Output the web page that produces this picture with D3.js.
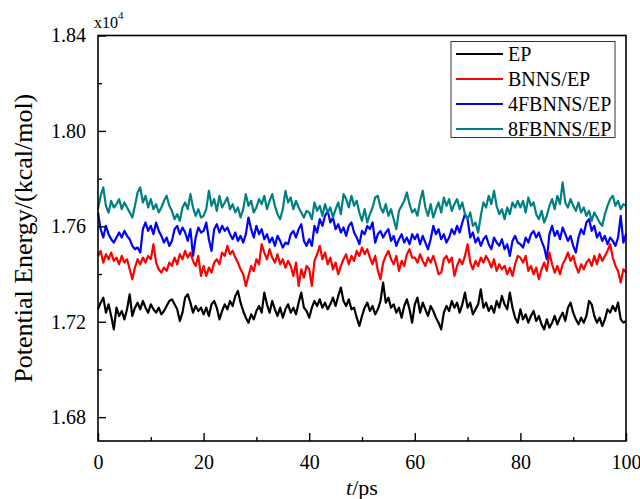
<!DOCTYPE html>
<html>
<head>
<meta charset="utf-8">
<script src="https://cdn.jsdelivr.net/npm/d3@7"></script>
<style>
  body { margin: 0; background: #fff; }
  svg { display: block; font-family: "Liberation Serif", "Times New Roman", serif; }
</style>
</head>
<body>
<svg></svg>
<script>
//chart size
const width = 640;
const height = 499;

//time step of the samples (ps)
const step = 0.5;

//potential energy, kcal/mol, every 0.5 ps
const ep = [
  17252,17280,17301,17238,17273,17224,17168,17259,17224,17245,17210,17252,17315,17224,17259,17280,17252,17287,17259,17238,
  17273,17252,17238,17259,17231,17245,17266,17287,17294,17273,17252,17203,17238,17301,17315,17280,17238,17266,17245,17259,
  17231,17259,17224,17273,17287,17259,17210,17245,17273,17252,17287,17266,17308,17329,17280,17245,17217,17196,17231,17210,
  17245,17266,17238,17322,17273,17238,17287,17252,17224,17259,17217,17252,17273,17238,17259,17231,17280,17322,17259,17245,
  17217,17259,17287,17266,17294,17259,17280,17252,17273,17301,17266,17308,17343,17287,17266,17294,17252,17259,17217,17182,
  17224,17259,17280,17245,17266,17231,17252,17287,17364,17280,17301,17259,17273,17238,17259,17217,17266,17294,17252,17196,
  17273,17301,17238,17280,17252,17224,17266,17245,17217,17196,17168,17238,17266,17245,17287,17259,17280,17238,17273,17322,
  17259,17280,17231,17252,17273,17336,17259,17280,17245,17266,17238,17287,17259,17308,17273,17252,17322,17259,17217,17196,
  17252,17210,17231,17196,17224,17245,17203,17224,17189,17168,17210,17175,17196,17224,17189,17217,17238,17203,17259,17280,
  17238,17210,17189,17217,17196,17224,17287,17273,17224,17196,17217,17182,17210,17252,17238,17266,17245,17280,17210,17196,
  17203
];

const bnns = [
  17476,17497,17448,17483,17462,17490,17455,17469,17441,17476,17448,17462,17420,17378,17427,17462,17441,17469,17448,17476,
  17462,17525,17448,17420,17406,17427,17413,17448,17434,17469,17441,17483,17462,17497,17469,17490,17455,17434,17476,17392,
  17434,17392,17427,17406,17448,17462,17441,17490,17476,17518,17483,17497,17469,17448,17420,17399,17350,17392,17434,17413,
  17462,17441,17525,17490,17462,17504,17469,17448,17483,17441,17462,17427,17455,17434,17392,17448,17350,17420,17385,17434,
  17420,17350,17455,17483,17518,17462,17490,17441,17469,17420,17448,17399,17434,17462,17483,17441,17476,17455,17497,17476,
  17511,17483,17504,17469,17441,17476,17413,17378,17448,17476,17497,17462,17441,17476,17413,17455,17434,17483,17504,17469,
  17469,17448,17483,17455,17434,17469,17448,17476,17441,17399,17406,17462,17476,17448,17469,17392,17434,17462,17441,17476,
  17525,17448,17420,17455,17434,17469,17448,17476,17455,17427,17462,17413,17441,17420,17434,17399,17427,17392,17441,17476,
  17469,17448,17476,17413,17434,17399,17427,17378,17420,17448,17413,17490,17441,17406,17434,17399,17441,17462,17490,17455,
  17476,17434,17406,17441,17420,17448,17462,17434,17476,17441,17483,17455,17476,17497,17525,17469,17434,17413,17364,17420,
  17406
];

const fb4 = [
  17658,17588,17553,17602,17567,17546,17532,17553,17574,17553,17581,17560,17546,17518,17504,17511,17490,17588,17616,17581,
  17602,17567,17616,17581,17560,17532,17553,17518,17539,17588,17602,17567,17595,17574,17539,17588,17476,17553,17595,17574,
  17581,17616,17546,17497,17588,17609,17574,17602,17581,17595,17567,17546,17574,17539,17560,17532,17567,17637,17588,17553,
  17602,17567,17588,17546,17567,17532,17553,17518,17560,17539,17511,17532,17525,17567,17581,17553,17588,17609,17539,17518,
  17546,17518,17602,17574,17630,17602,17644,17665,17616,17637,17588,17609,17574,17595,17560,17602,17616,17574,17553,17525,
  17581,17567,17602,17588,17616,17532,17567,17581,17553,17574,17588,17539,17560,17518,17546,17567,17532,17553,17525,17567,
  17546,17567,17525,17560,17532,17504,17546,17602,17567,17588,17546,17567,17532,17553,17588,17567,17602,17574,17616,17651,
  17630,17553,17574,17532,17553,17518,17546,17560,17525,17504,17553,17532,17518,17546,17504,17525,17476,17539,17560,17532,
  17525,17511,17553,17532,17567,17581,17553,17574,17539,17511,17462,17567,17602,17560,17581,17546,17595,17567,17539,17560,
  17518,17490,17553,17588,17567,17616,17630,17581,17602,17553,17574,17539,17560,17525,17553,17539,17518,17553,17644,17532,
  17567
];

const fb8 = [
  17672,17728,17763,17686,17658,17707,17679,17693,17714,17672,17700,17679,17658,17637,17686,17742,17763,17700,17728,17679,
  17714,17672,17693,17658,17679,17707,17728,17686,17665,17630,17651,17623,17679,17700,17672,17735,17679,17644,17672,17637,
  17644,17672,17749,17686,17714,17665,17728,17679,17700,17721,17672,17693,17658,17679,17637,17672,17735,17686,17707,17658,
  17679,17714,17693,17728,17672,17707,17735,17686,17651,17630,17672,17749,17700,17721,17672,17707,17679,17658,17637,17665,
  17658,17630,17700,17665,17686,17644,17693,17658,17679,17637,17672,17700,17651,17735,17714,17679,17728,17686,17707,17658,
  17623,17672,17616,17651,17679,17721,17728,17679,17658,17693,17644,17672,17630,17588,17665,17686,17707,17742,17693,17658,
  17672,17644,17707,17749,17679,17644,17693,17637,17672,17700,17658,17721,17686,17714,17665,17693,17714,17672,17700,17651,
  17630,17658,17602,17616,17574,17644,17700,17679,17728,17693,17749,17686,17651,17672,17630,17679,17651,17700,17679,17707,
  17679,17707,17658,17721,17686,17700,17651,17630,17665,17616,17644,17686,17714,17672,17728,17693,17784,17700,17679,17714,
  17686,17665,17700,17658,17679,17644,17665,17623,17658,17637,17616,17602,17651,17686,17714,17728,17686,17707,17672,17693,
  17686
];

//series names and colours
const names = ["EP", "BNNS/EP", "4FBNNS/EP", "8FBNNS/EP"];
const colors = ["#000000", "#ff0000", "#0000ff", "#008080"];

//axis ticks
const xTicks = [0, 20, 40, 60, 80, 100];
const xMinor = [10, 30, 50, 70, 90];
const yTicks = [16800, 17200, 17600, 18000, 18400];
const yMinor = [17000, 17400, 17800, 18200];

const svg = d3.select("svg")
  .attr("width", width)
  .attr("height", height);

svg.append("rect")
  .attr("width", width)
  .attr("height", height)
  .attr("fill", "#fff");

//scales
const x = d3.scaleLinear().domain([0, 100]).range([98, 626]);
const y = d3.scaleLinear().domain([16700, 18400]).range([441, 35.5]);

const series = [ep, bnns, fb4, fb8];

const line = d3.line()
  .x((d, i) => x(i * step))
  .y(d => y(d));

const plot = svg.append("g");

//draw order: blue under the others
[2, 0, 1, 3].forEach(k => {
  plot.append("path")
    .datum(series[k])
    .attr("d", line)
    .attr("fill", "none")
    .attr("stroke", colors[k])
    .attr("stroke-width", 2.2)
    .attr("stroke-linejoin", "round");
});

//frame
svg.append("rect")
  .attr("x", x(0))
  .attr("y", y(18400))
  .attr("width", x(100) - x(0))
  .attr("height", y(16700) - y(18400))
  .attr("fill", "none")
  .attr("stroke", "#000")
  .attr("stroke-width", 1.6);

//x axis, ticks inside
svg.append("g")
  .attr("transform", `translate(0,${y(16700)})`)
  .call(d3.axisBottom(x).tickValues(xTicks).tickSizeInner(-8).tickSizeOuter(0).tickPadding(14));
svg.append("g")
  .attr("transform", `translate(0,${y(16700)})`)
  .call(d3.axisBottom(x).tickValues(xMinor).tickSizeInner(-4).tickSizeOuter(0).tickFormat(""));

//y axis, ticks inside
svg.append("g")
  .attr("transform", `translate(${x(0)},0)`)
  .call(d3.axisLeft(y).tickValues(yTicks).tickSizeInner(-8).tickSizeOuter(0).tickPadding(12)
    .tickFormat(d => (d / 1e4).toFixed(2)));
svg.append("g")
  .attr("transform", `translate(${x(0)},0)`)
  .call(d3.axisLeft(y).tickValues(yMinor).tickSizeInner(-4).tickSizeOuter(0).tickFormat(""));

svg.selectAll(".domain").attr("stroke", "none");
svg.selectAll(".tick line").attr("stroke", "#000").attr("stroke-width", 1.4);
svg.selectAll(".tick text")
  .attr("font-family", "Liberation Serif")
  .attr("font-size", 20)
  .attr("fill", "#000");

//exponent
const expo = svg.append("text")
  .attr("x", 94)
  .attr("y", 28)
  .attr("font-size", 16);
expo.append("tspan").text("x10");
expo.append("tspan").attr("dy", -9).attr("font-size", 11).text("4");

//axis titles
const xt = svg.append("text")
  .attr("x", 362)
  .attr("y", 495)
  .attr("text-anchor", "middle")
  .attr("font-size", 22);
xt.append("tspan").attr("font-style", "italic").text("t");
xt.append("tspan").text("/ps");

svg.append("text")
  .attr("transform", `translate(32,${y(17550)}) rotate(-90)`)
  .attr("text-anchor", "middle")
  .attr("font-size", 26)
  .text("Potential Energy/(kcal/mol)");

//legend
const legend = svg.append("g");
legend.append("rect")
  .attr("x", 451)
  .attr("y", 41.5)
  .attr("width", 164)
  .attr("height", 96)
  .attr("fill", "#fff")
  .attr("stroke", "#333")
  .attr("stroke-width", 1);

names.forEach((n, i) => {
  const ly = 54 + i * 25;
  legend.append("line")
    .attr("x1", 456).attr("x2", 503)
    .attr("y1", ly).attr("y2", ly)
    .attr("stroke", colors[i])
    .attr("stroke-width", 2.2);
  legend.append("text")
    .attr("x", 508)
    .attr("y", ly + 7)
    .attr("font-size", 20)
    .text(n);
});
</script>
</body>
</html>
